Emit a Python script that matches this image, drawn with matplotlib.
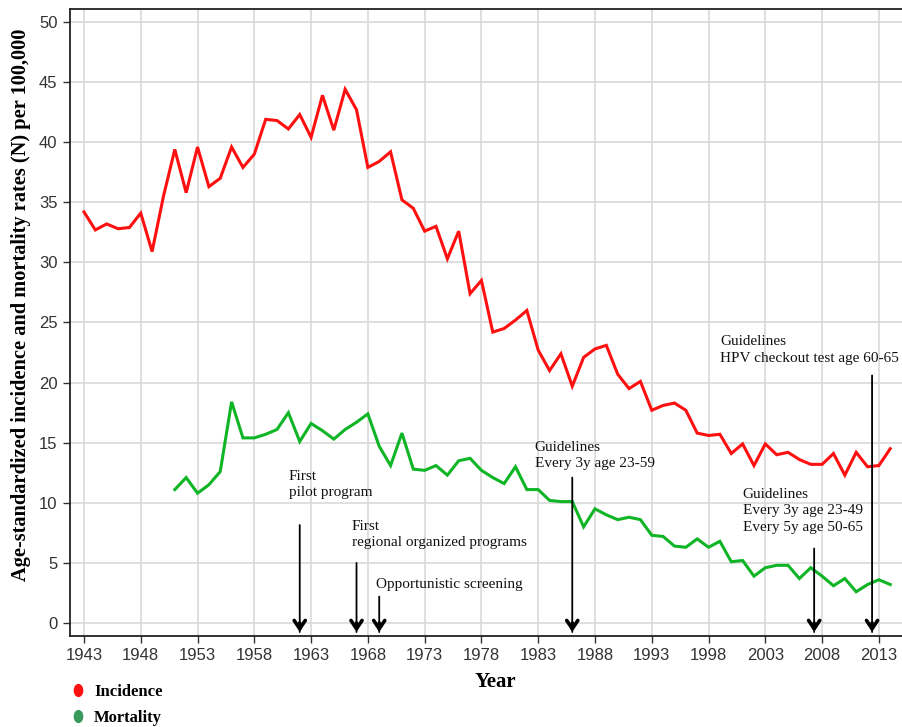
import numpy as np
import matplotlib
matplotlib.use("Agg")
import matplotlib.pyplot as plt
from matplotlib.markers import MarkerStyle
from matplotlib.transforms import Affine2D
from matplotlib.lines import Line2D

# incidence, 1943-2014
inc_years = list(range(1943, 2015))
incidence = [34.2, 32.7, 33.2, 32.8, 32.9, 34.1, 30.9, 35.5, 39.4, 35.8,
             39.6, 36.3, 37.0, 39.6, 37.9, 39.0, 41.9, 41.8, 41.1, 42.3,
             40.4, 43.9, 41.0, 44.4, 42.7, 37.9, 38.4, 39.2, 35.2, 34.5,
             32.6, 33.0, 30.3, 32.6, 27.4, 28.5, 24.2, 24.5, 25.2, 26.0,
             22.7, 21.0, 22.4, 19.7, 22.1, 22.8, 23.1, 20.7, 19.5, 20.1,
             17.7, 18.1, 18.3, 17.7, 15.8, 15.6, 15.7, 14.1, 14.9, 13.1,
             14.9, 14.0, 14.2, 13.6, 13.2, 13.2, 14.1, 12.3, 14.2, 13.0,
             13.1, 14.5]

# mortality, 1951-2014
mort_years = list(range(1951, 2015))
mortality = [11.1, 12.1, 10.8, 11.5, 12.6, 18.4, 15.4, 15.4, 15.7, 16.1,
             17.5, 15.1, 16.6, 16.0, 15.3, 16.1, 16.7, 17.4, 14.7, 13.1,
             15.8, 12.8, 12.7, 13.1, 12.3, 13.5, 13.7, 12.7, 12.1, 11.6,
             13.0, 11.1, 11.1, 10.2, 10.1, 10.1, 8.0, 9.5, 9.0, 8.6,
             8.8, 8.6, 7.3, 7.2, 6.4, 6.3, 7.0, 6.3, 6.8, 5.1,
             5.2, 3.9, 4.6, 4.8, 4.8, 3.7, 4.6, 3.9, 3.1, 3.7,
             2.6, 3.2, 3.6, 3.2]

# screening events
event_labels = ["First\npilot program",
                "First\nregional organized programs",
                "Opportunistic screening",
                "Guidelines\nEvery 3y age 23-59",
                "Guidelines\nEvery 3y age 23-49\nEvery 5y age 50-65",
                "Guidelines\nHPV checkout test age 60-65"]
event_years = [1962, 1967, 1969, 1986, 2007.3, 2012.4]

# layout of the annotations (text x, text top y, arrow tail y)
text_x = [1961.05, 1966.6, 1968.75, 1982.7, 2001.0, 1999.0]
text_top = [12.75, 8.6, 3.75, 15.15, 11.25, 23.95]
arrow_tail = [8.15, 5.0, 2.2, 12.1, 6.2, 20.6]
arrow_tip = -0.75

serif = ["Liberation Serif", "DejaVu Serif"]

fig = plt.figure(figsize=(9.02, 7.27), dpi=100)
ax = fig.add_axes([70/902, 1 - 636/727, 835/902, 627/727])

ax.plot(inc_years, incidence, color="#ff1010", lw=2.2, solid_joinstyle="miter", zorder=3)
ax.plot(mort_years, mortality, color="#10b526", lw=2.2, solid_joinstyle="miter", zorder=3)

head = "->,head_length=0.6,head_width=0.4"
for lab, yr, tx, tt, tail in zip(event_labels, event_years, text_x, text_top, arrow_tail):
    ax.text(tx, tt, lab, family=serif, fontsize=11, va="top", ha="left",
            linespacing=1.35, color="#111111", zorder=4)
    # thin shaft
    ax.annotate("", xy=(yr, arrow_tip), xytext=(yr, tail),
                arrowprops=dict(arrowstyle="-", lw=1.3, color="black",
                                shrinkA=0, shrinkB=0), zorder=4)
    # heavy open head
    ax.annotate("", xy=(yr, arrow_tip), xytext=(yr, arrow_tip + 0.75),
                arrowprops=dict(arrowstyle=head, lw=2.6, color="black",
                                shrinkA=0, shrinkB=0), zorder=4)

ax.set_xlim(1941.77, 2015.3)
ax.set_ylim(-1.08, 51.08)
ax.set_xticks(range(1943, 2014, 5))
ax.set_yticks(range(0, 51, 5))
ax.grid(True, color="#d9d9d9", lw=1.2)
ax.set_axisbelow(True)
for s in ax.spines.values():
    s.set_color("#222222")
    s.set_linewidth(1.3)
ax.tick_params(length=5, width=1.0, color="#333333", labelsize=12,
               labelcolor="#333333", pad=4)
for lab in ax.get_xticklabels() + ax.get_yticklabels():
    lab.set_family(["Liberation Sans", "DejaVu Sans"])

fig.text(21/902, 1 - 305/727, "Age-standardized incidence and mortality rates (N) per 100,000",
         rotation=90, ha="center", va="center", family=serif, weight="bold", fontsize=14.7)
fig.text(495/902, 1 - 682/727, "Year", ha="center", va="center",
         family=serif, weight="bold", fontsize=15)

dot = MarkerStyle("o", transform=Affine2D().scale(0.7, 1.0))
handles = [Line2D([], [], ls="none", marker=dot, ms=8.5, color="#ff1010"),
           Line2D([], [], ls="none", marker=dot, ms=8.5, color="#3a9a5c")]
fig.legend(handles, ["Incidence", "Mortality"], loc="center left",
           bbox_to_anchor=(70/902, 1 - 705/727), frameon=False,
           prop=dict(family=serif, weight="bold", size=12),
           handlelength=1.0, handletextpad=0.45, labelspacing=0.6,
           borderpad=0, borderaxespad=0)

fig.savefig("out.png", dpi=100)
